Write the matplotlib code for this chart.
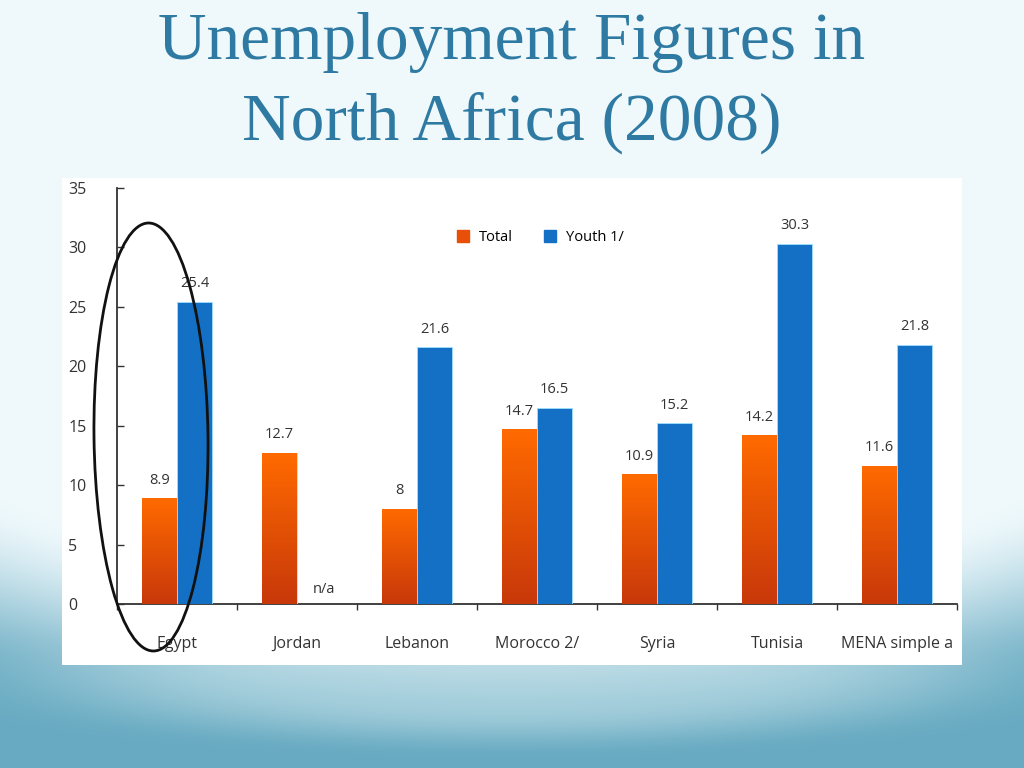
import numpy as np
import matplotlib
matplotlib.use("Agg")
import matplotlib.pyplot as plt
from matplotlib.patches import Ellipse, Rectangle
from matplotlib.lines import Line2D

categories = ["Egypt", "Jordan", "Lebanon", "Morocco 2/", "Syria", "Tunisia", "MENA simple a"]
total = [8.9, 12.7, 8.0, 14.7, 10.9, 14.2, 11.6]
youth = [25.4, None, 21.6, 16.5, 15.2, 30.3, 21.8]
total_labels = ["8.9", "12.7", "8", "14.7", "10.9", "14.2", "11.6"]
youth_labels = ["25.4", "n/a", "21.6", "16.5", "15.2", "30.3", "21.8"]
yticks = [0, 5, 10, 15, 20, 25, 30, 35]

W, H = 1024, 768
fig = plt.figure(figsize=(W / 100, H / 100), dpi=100)

# ---- slide background gradient ----
bg = fig.add_axes([0, 0, 1, 1])
bg.set_axis_off()
yy, xx = np.mgrid[0:1:500j, 0:1:500j]   # yy: 0 top -> 1 bottom
top = np.array([0.94, 0.978, 0.99])
bot = np.array([0.41, 0.67, 0.76])


def smooth(a, b, v):
    s = np.clip((v - a) / (b - a), 0, 1)
    return s * s * (3 - 2 * s)


d = np.sqrt(((xx - 0.5) / 0.85) ** 2 + ((yy - 0.25) / 0.55) ** 2)
t = smooth(0.92, 1.35, d)
img = top[None, None, :] * (1 - t[..., None]) + bot[None, None, :] * t[..., None]
# lighter swoosh near the bottom middle
d2 = np.sqrt(((xx - 0.5) / 0.55) ** 2 + ((yy - 0.89) / 0.09) ** 2)
hl = (1 - smooth(0.4, 1.1, d2)) * 0.45
light = np.array([0.78, 0.89, 0.92])
img = img * (1 - hl[..., None]) + light[None, None, :] * hl[..., None]
img = np.clip(img, 0, 1)
bg.imshow(img, extent=[0, 1, 0, 1], origin="upper", aspect="auto")
bg.set_xlim(0, 1)
bg.set_ylim(0, 1)

# white picture box
fig.patches.append(Rectangle((62 / W, 1 - 665 / H), 900 / W, 487 / H,
                             transform=fig.transFigure, facecolor="white",
                             edgecolor="none", zorder=1))

# ---- title ----
title_color = "#2e7aa2"
fig.text(0.5, 1 - 59 / H, "Unemployment Figures in", ha="center", va="baseline",
         fontsize=48.5, family="Liberation Serif", color=title_color)
fig.text(0.5, 1 - 140 / H, "North Africa (2008)", ha="center", va="baseline",
         fontsize=48.5, family="Liberation Serif", color=title_color)

# ---- chart ----
ax = fig.add_axes([117 / W, 1 - 604 / H, 840 / W, 416 / H])
ax.set_facecolor("none")
ax.set_zorder(2)
x = np.arange(len(categories))
bw = 0.29

orange_cmap = matplotlib.colors.LinearSegmentedColormap.from_list("o", ["#c8380a", "#ff6a00"])
blue_c = "#1470c4"

for i in range(len(categories)):
    b = ax.bar(x[i] - bw / 2, total[i], bw, color="#f05a0a", edgecolor="#ffd9a8",
               linewidth=0.6, zorder=3)[0]
    grad = np.linspace(0, 1, 100).reshape(-1, 1)
    im = ax.imshow(grad, cmap=orange_cmap, origin="lower", aspect="auto",
                   extent=[x[i] - bw, x[i], 0, total[i]], zorder=3.5)
    im.set_clip_path(b)
    ax.text(x[i] - bw / 2, total[i] + 0.9, total_labels[i], ha="center", va="bottom",
            fontsize=10.5, family="Open Sans", color="#333333", zorder=5)
    if youth[i] is not None:
        ax.bar(x[i] + bw / 2, youth[i], bw, color=blue_c, edgecolor="#9fe0ff",
               linewidth=0.6, zorder=3)
        ax.text(x[i] + bw / 2, youth[i] + 0.9, youth_labels[i], ha="center", va="bottom",
                fontsize=10.5, family="Open Sans", color="#333333", zorder=5)
    else:
        ax.text(x[i] + bw / 2 + 0.08, 0.6, youth_labels[i], ha="center", va="bottom",
                fontsize=10.5, family="Open Sans", color="#333333", zorder=5)

ax.set_xlim(-0.5, len(categories) - 0.5)
ax.set_ylim(0, 35)
ax.set_yticks(yticks)
ax.set_yticklabels([str(v) for v in yticks], family="Open Sans", fontsize=11.5, color="#333333")
for lab in ax.get_yticklabels():
    lab.set_horizontalalignment("left")
ax.tick_params(axis="y", direction="in", length=5, width=1, color="#333333", pad=35)
ax.set_xticks(np.arange(len(categories) + 1) - 0.5, minor=True)
ax.set_xticks(x)
ax.set_xticklabels(categories, family="Open Sans", fontsize=11.5, color="#333333")
ax.tick_params(axis="x", which="major", length=0, pad=23)
ax.tick_params(axis="x", which="minor", direction="out", length=4, width=1, color="#333333")
for s in ["top", "right"]:
    ax.spines[s].set_visible(False)
ax.spines["left"].set_color("#333333")
ax.spines["bottom"].set_color("#333333")
ax.spines["left"].set_linewidth(1.3)
ax.spines["bottom"].set_linewidth(1.3)

# legend
handles = [Line2D([], [], marker="s", linestyle="none", markersize=9, color="#e8500a"),
           Line2D([], [], marker="s", linestyle="none", markersize=9, color=blue_c)]
ax.legend(handles, ["Total", "Youth 1/"], loc="upper left", bbox_to_anchor=(0.379, 0.93),
          ncol=2, frameon=False, handletextpad=0.1, columnspacing=1.5,
          prop={"family": "Open Sans", "size": 10.5})

# hand-drawn ellipse around Egypt
fig.patches.append(Ellipse((151 / W, 1 - 437 / H), 114 / W, 428 / H, angle=0.5,
                           transform=fig.transFigure, fill=False, edgecolor="#111111",
                           linewidth=2, zorder=10))

fig.savefig("out.png", dpi=100)
